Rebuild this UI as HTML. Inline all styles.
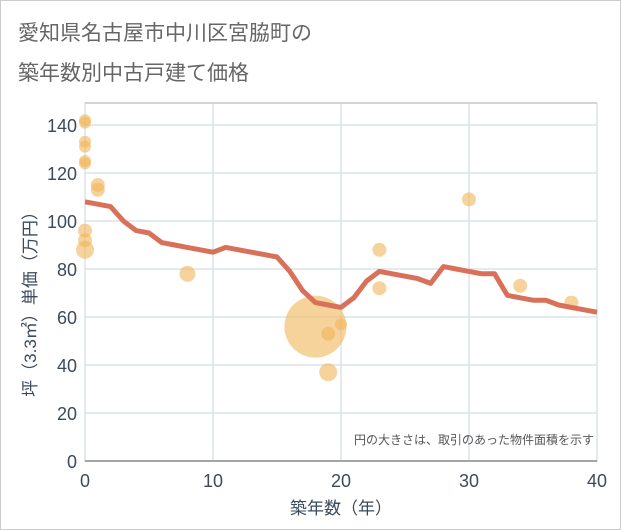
<!DOCTYPE html>
<html><head><meta charset="utf-8">
<style>
body{margin:0;background:#fff;}
#wrap{position:relative;width:619px;height:528px;border:1px solid #ccc;background:#fff;font-family:"Liberation Sans","Noto Sans CJK JP",sans-serif;}
.title{position:absolute;left:17px;font-size:21px;color:#666;}
</style></head><body>
<div id="wrap">
<div class="title" style="top:16px">愛知県名古屋市中川区宮脇町の</div>
<div class="title" style="top:56px">築年数別中古戸建て価格</div>
<svg id="svg" width="621" height="530" style="position:absolute;left:-1px;top:-1px"></svg>
</div>
<script>
const xTicks=[0,10,20,30,40];
const yTicks=[0,20,40,60,80,100,120,140];
const lineYears=[0,1,2,3,4,5,6,7,8,9,10,11,12,13,14,15,16,17,18,19,20,21,22,23,24,25,26,27,28,29,30,31,32,33,34,35,36,37,38,39,40];
const lineValues=[108,107,106,100,96,95,91,90,89,88,87,89,88,87,86,85,79,71,66,65,64,68,75,79,78,77,76,74,81,80,79,78,78,69,68,67,67,65,64,63,62];
const bubbleYears=[0,0,0,0,0,0,1,1,0,0,0,8,18,19,20,19,23,23,30,34,38];
const bubbleValues=[141,142,133,131,125,124,115,113,96,92,88,78,56,53,57,37,88,72,109,73,66];
const bubbleSizes=[6,6,6,6,6,6,7,7,7,7,9,8,31,7,6,9,7,7,7,7,7];
const X0=85,X1=597,Y0=461,Y1=125;
const sx=v=>X0+(v-0)/40*(X1-X0);
const sy=v=>Y0-(v/140)*(Y0-Y1);
const svg=document.getElementById('svg');
const NS='http://www.w3.org/2000/svg';
function mk(t,a){const e=document.createElementNS(NS,t);for(const k in a)e.setAttribute(k,a[k]);svg.appendChild(e);return e;}
// plot frame background
const bg=mk('rect',{x:X0,y:103,width:X1-X0,height:Y0-103,fill:'#fff',stroke:'#aaa','stroke-width':1});


yTicks.forEach(v=>{
 const l=mk('line',{x1:X0,x2:X1,y1:sy(v),y2:sy(v),stroke:'#c8d6e4','stroke-width':1});
 
 
 const t=mk('text',{x:X0-8,y:sy(v)+7,'text-anchor':'end','font-size':18,fill:'#3b4a5c'});
 t.textContent=v;
 
 
});
xTicks.forEach(v=>{
 const l=mk('line',{x1:sx(v),x2:sx(v),y1:103,y2:Y0,stroke:'#c8d6e4','stroke-width':1});
 
 
 const t=mk('text',{x:sx(v),y:487,'text-anchor':'middle','font-size':18,fill:'#3b4a5c'});
 t.textContent=v;
 
 
});
const ax=mk('line',{x1:X0,x2:X1,y1:Y0,y2:Y0,stroke:'#888','stroke-width':1.5});


bubbleYears.forEach((yr,i)=>{
 const c=mk('circle',{cx:sx(yr),cy:sy(bubbleValues[i]),r:bubbleSizes[i],fill:'#f2b65a','fill-opacity':0.6});
 
 
});
const pts=lineYears.map((y,i)=>sx(y)+','+sy(lineValues[i])).join(' ');
const pl=mk('polyline',{points:pts,fill:'none',stroke:'#d9705a','stroke-width':5,'stroke-linejoin':'round'});


const note=mk('text',{x:594,y:444,'text-anchor':'end','font-size':12,fill:'#555'});
note.textContent='円の大きさは、取引のあった物件面積を示す';


const xt=mk('text',{x:341,y:514,'text-anchor':'middle','font-size':17,fill:'#3b4a5c'});
xt.textContent='築年数（年）';


const yt=mk('text',{x:0,y:0,'text-anchor':'middle','font-size':17,fill:'#3b4a5c',transform:'translate(36,300) rotate(-90)'});
yt.textContent='坪（3.3㎡）単価（万円）';


</script>
</body></html>
